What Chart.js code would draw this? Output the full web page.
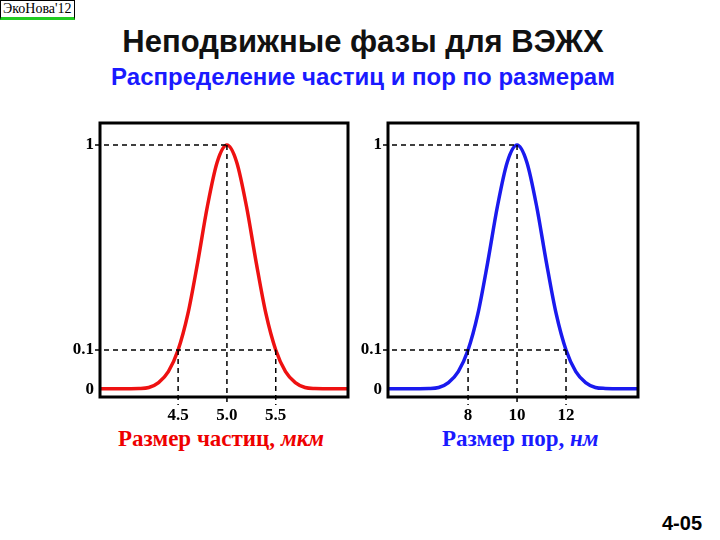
<!DOCTYPE html>
<html><head><meta charset="utf-8">
<script src="https://cdn.jsdelivr.net/npm/chart.js@4"></script>
<style>
body{margin:0;width:720px;height:540px;background:#fff;position:relative;overflow:hidden;font-family:"Liberation Sans",Arial,sans-serif}
.t{position:absolute;white-space:nowrap}
canvas{position:absolute;top:0}
</style></head><body>
<div class="t" style="left:0;top:0;font:14px 'Liberation Serif';border:1px solid #000;border-bottom:3px solid #2c2;padding:0 2px;background:#fff">ЭкоНова'12</div>
<div class="t" style="left:0;width:726px;text-align:center;top:24px;font-weight:bold;font-size:31px;color:#111">Неподвижные фазы для ВЭЖХ</div>
<div class="t" style="left:0;width:726px;text-align:center;top:63px;font-weight:bold;font-size:24px;color:#1a1aff">Распределение частиц и пор по размерам</div>
<div class="t" style="left:118px;top:426px;font:bold 23px 'Liberation Serif';color:#e00">Размер частиц, <i>мкм</i></div>
<div class="t" style="left:442px;top:426px;font:bold 23px 'Liberation Serif';color:#1a1aff">Размер пор, <i>нм</i></div>
<div class="t" style="left:662px;top:512px;font-weight:bold;font-size:20px">4-05</div>
<canvas id="c1" width="360" height="540" style="left:0"></canvas>
<canvas id="c2" width="360" height="540" style="left:360px"></canvas>
<script>
// relative density (as drawn) vs particle size, мкм
const sizeX = [3.7,3.9,4.1,4.2,4.3,4.4,4.5,4.6,4.7,4.8,4.9,5.0,5.1,5.2,5.3,5.4,5.5,5.6,5.7,5.8,5.9,6.1,6.24];
const sizeY = [0.005,0.005,0.006,0.01,0.03,0.075,0.163,0.31,0.52,0.75,0.93,1.0,0.93,0.75,0.52,0.31,0.163,0.075,0.03,0.01,0.006,0.005,0.005];
// relative density vs pore size, нм
const poreX = [4.73,5.5,6.4,6.8,7.2,7.6,8.0,8.4,8.8,9.2,9.6,10,10.4,10.8,11.2,11.6,12,12.4,12.8,13.2,13.6,14.3,14.94];
const poreY = [0.005,0.005,0.006,0.01,0.03,0.075,0.163,0.31,0.52,0.75,0.93,1.0,0.93,0.75,0.52,0.31,0.163,0.075,0.03,0.01,0.006,0.005,0.005];
const yTickVals = [0, 0.163, 1];
const yTickLabels = ['0','0.1','1'];
const sizeTicks = [4.5,5.0,5.5], sizeTickLabels=['4.5','5.0','5.5'];
const poreTicks = [8,10,12], poreTickLabels=['8','10','12'];

function make(id,xs,ys,color,xmin,xmax,xt,xtl,padL,padR){
  const deco={id:'deco',afterDraw(ch){
    const c=ch.ctx,a=ch.chartArea,X=ch.scales.x,Y=ch.scales.y;
    c.save();
    c.strokeStyle='#000';c.lineWidth=1.5;c.setLineDash([5,4]);
    const peakX=xt[1];
    [[yTickVals[2],peakX],[yTickVals[1],xt[2]]].forEach(([v,xe])=>{
      const py=Y.getPixelForValue(v);c.beginPath();c.moveTo(a.left-5,py);c.lineTo(X.getPixelForValue(xe),py);c.stroke();});
    xt.forEach((v,i)=>{const px=X.getPixelForValue(v);const top=i==1?Y.getPixelForValue(1):Y.getPixelForValue(yTickVals[1]);
      c.beginPath();c.moveTo(px,top);c.lineTo(px,a.bottom+8);c.stroke();});
    c.setLineDash([]);
    c.lineWidth=3;c.strokeRect(a.left,a.top,a.right-a.left,a.bottom-a.top);
    c.fillStyle='#000';c.font='bold 17px "Liberation Serif"';
    c.textAlign='right';c.textBaseline='middle';
    yTickVals.forEach((v,i)=>c.fillText(yTickLabels[i],a.left-6,Y.getPixelForValue(v)));
    c.textAlign='center';c.textBaseline='top';
    xt.forEach((v,i)=>c.fillText(xtl[i],X.getPixelForValue(v),a.bottom+10));
    c.restore();}};
  new Chart(document.getElementById(id),{type:'scatter',
    data:{datasets:[{data:xs.map((x,i)=>({x,y:ys[i]})),showLine:true,borderColor:color,borderWidth:3.5,pointRadius:0,tension:0.4,cubicInterpolationMode:'monotone'}]},
    options:{responsive:false,animation:false,events:[],
      layout:{padding:{left:padL,right:padR,top:123,bottom:143}},
      plugins:{legend:{display:false},tooltip:{enabled:false}},
      scales:{x:{type:'linear',min:xmin,max:xmax,display:false},y:{min:-0.029,max:1.09,display:false}}},
    plugins:[deco]});
}
make('c1',sizeX,sizeY,'#ee1111',3.7,6.24,sizeTicks,sizeTickLabels,100,12);
make('c2',poreX,poreY,'#1a1aee',4.73,14.94,poreTicks,poreTickLabels,28,82);
</script></body></html>
